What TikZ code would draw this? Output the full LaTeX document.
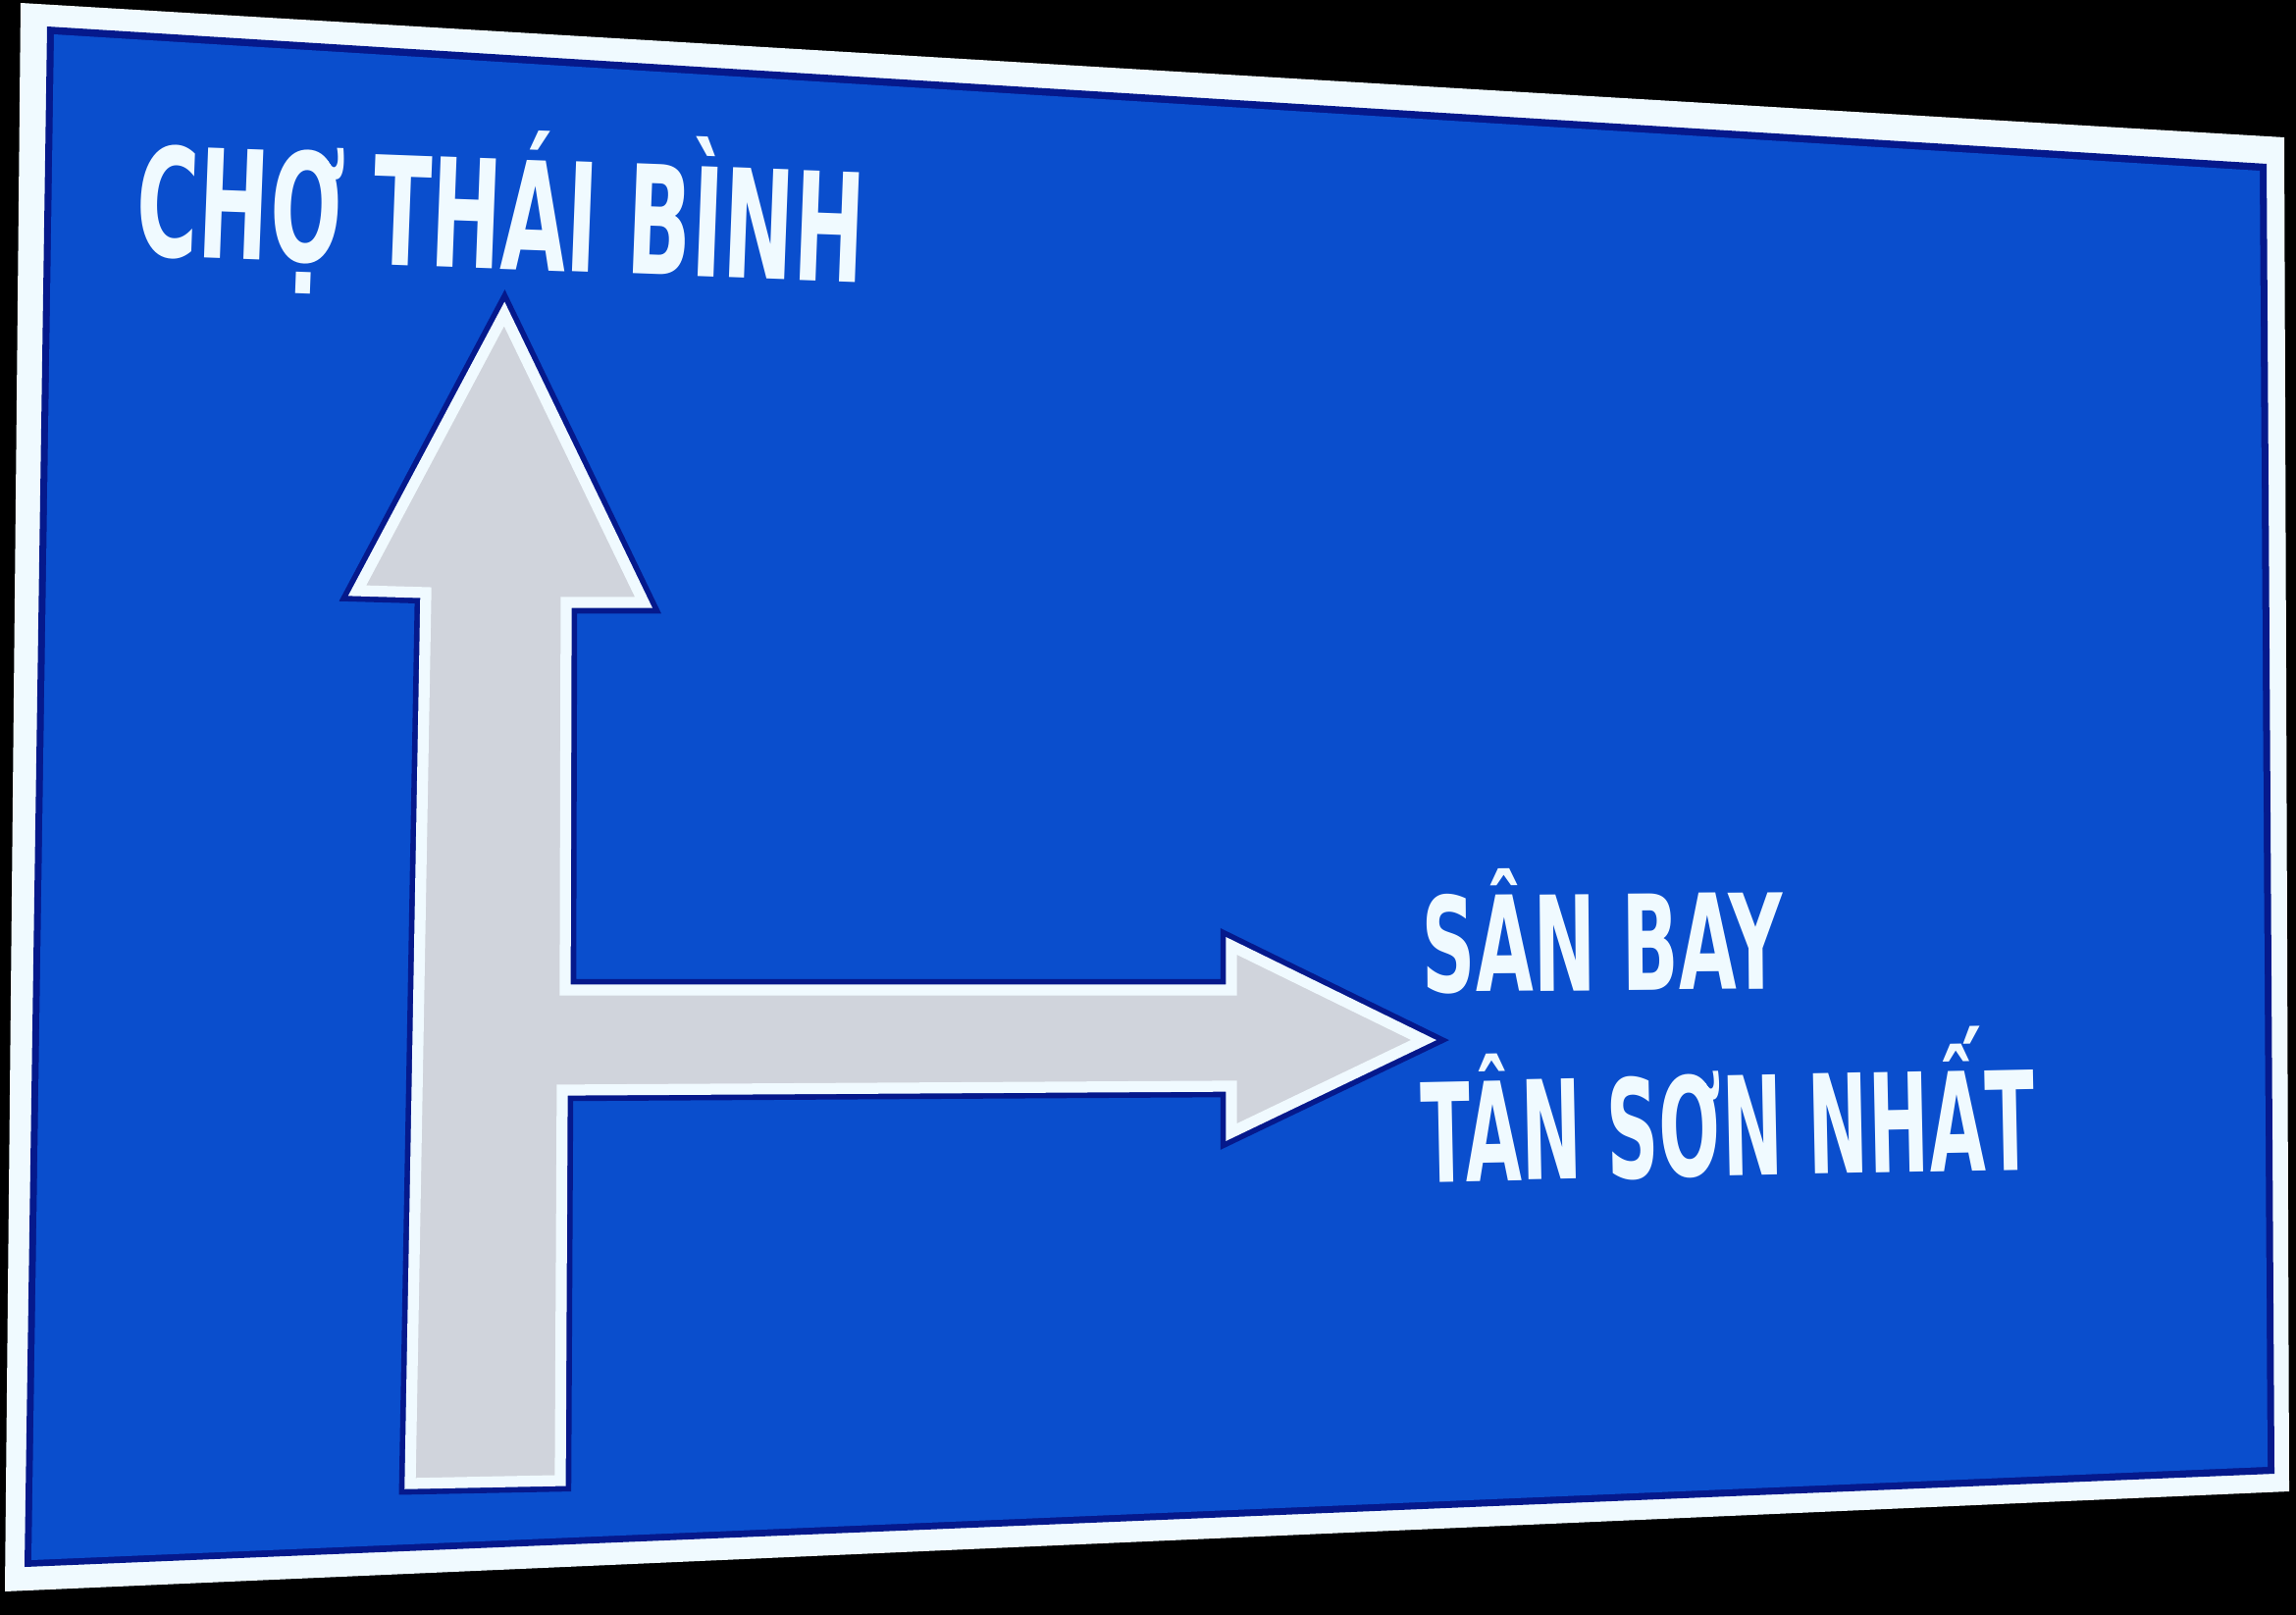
\documentclass[tikz,border=0pt]{standalone}
\usepackage{fontspec}
\usepackage{graphicx}
\newfontfamily\signfont{DejaVu Sans}
\definecolor{signblue}{RGB}{10,78,205}
\definecolor{signnavy}{RGB}{5,25,140}
\definecolor{signwhite}{RGB}{240,250,255}
\definecolor{arrowgray}{RGB}{208,212,220}
\begin{document}
\begin{tikzpicture}[x=0.01cm,y=-0.01cm,
  signtext/.style={inner sep=0pt, anchor=base west, text=signwhite, font=\signfont\bfseries},
  arrowbody/.style={fill=arrowgray, draw=signwhite, line width=3.2pt, line join=miter,
    preaction={draw=signnavy, line width=6.4pt, line join=miter}}]
\fill[black] (0,0) rectangle (2340,1646);
\useasboundingbox (0,0) rectangle (2340,1646);
% sign panel
\fill[signwhite] (21,3) -- (2328,140) -- (2333,1520) -- (5,1622) -- cycle;
\fill[signnavy] (48,27) -- (2310,167) -- (2318,1502) -- (25,1597) -- cycle;
\fill[signblue] (55,35) -- (2303,174) -- (2311,1495) -- (32,1590) -- cycle;
% arrow
\path[arrowbody] (514,320) -- (656,614) -- (577,614) -- (576,1009) -- (1255,1009)
  -- (1255,964) -- (1451,1060) -- (1255,1154) -- (1255,1107) -- (573,1111)
  -- (571,1509) -- (418,1512) -- (434,604) -- (364,602) -- cycle;
% texts
\node[signtext, rotate=-2.16] (cho) at (137,260)
  {\resizebox{7.42cm}{\height}{\fontsize{43.7}{48}\selectfont CHỢ THÁI BÌNH}};
\node[signtext, rotate=0.47] (san) at (1449,1011)
  {\resizebox{3.68cm}{\height}{\fontsize{38.3}{42}\selectfont SÂN BAY}};
\node[signtext, rotate=1.19] (tan) at (1449,1205)
  {\resizebox{6.25cm}{\height}{\fontsize{39.8}{44}\selectfont TÂN SƠN NHẤT}};
\end{tikzpicture}
\end{document}
